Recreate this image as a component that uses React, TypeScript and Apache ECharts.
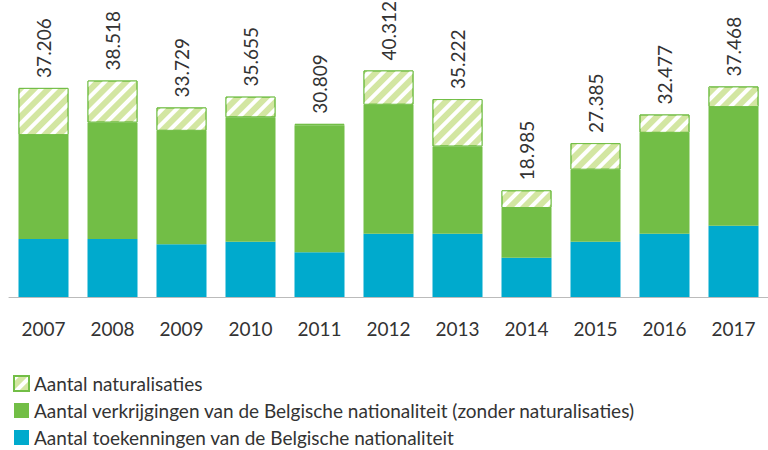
import React, { useEffect, useRef } from "react";
import * as echarts from "echarts";

const years = ["2007", "2008", "2009", "2010", "2011", "2012", "2013", "2014", "2015", "2016", "2017"];
const toekenningen = [10300, 10300, 9370, 9850, 7950, 11270, 11270, 7000, 9850, 11270, 12700];
const verkrijgingen = [18506, 20748, 20199, 22125, 22629, 22942, 15522, 8835, 12805, 17937, 21088];
const naturalisaties = [8400, 7470, 4160, 3680, 230, 6100, 8430, 3150, 4730, 3270, 3680];

const seriesNames = [
  "Aantal naturalisaties",
  "Aantal verkrijgingen van de Belgische nationaliteit (zonder naturalisaties)",
  "Aantal toekenningen van de Belgische nationaliteit",
];

const FONT = "Lato";

export default function App() {
  const ref = useRef<HTMLDivElement>(null);
  useEffect(() => {
    if (!ref.current) return;
    const chart = echarts.init(ref.current, null, { renderer: "svg" });
    const fmt = (v: number) => {
      const s = String(Math.round(v));
      return s.replace(/\B(?=(\d{3})+(?!\d))/g, ".");
    };
    chart.setOption({
      animation: false,
      textStyle: { fontFamily: FONT },
      grid: { left: 9, width: 770, top: 16, bottom: 153, containLabel: false },
      legend: {
        orient: "vertical",
        left: 13,
        top: 374,
        height: 80,
        padding: 0,
        itemWidth: 15,
        itemHeight: 15,
        itemGap: 8,
        icon: "rect",
        data: seriesNames,
        textStyle: { fontFamily: FONT, fontSize: 19, color: "#333" },
      },
      xAxis: {
        type: "category",
        data: years,
        axisLine: { lineStyle: { color: "#bbb", width: 1 } },
        axisTick: { length: 8, lineStyle: { color: "#bbb" } },
        axisLabel: { fontFamily: FONT, fontSize: 19, color: "#333", margin: 22 },
      },
      yAxis: { type: "value", min: 0, max: 50000, show: false, splitLine: { show: false } },
      series: [
        {
          name: seriesNames[2],
          type: "bar",
          stack: "t",
          barWidth: 50,
          data: toekenningen,
          itemStyle: { color: "#00aacd" },
        },
        {
          name: seriesNames[1],
          type: "bar",
          stack: "t",
          barWidth: 50,
          data: verkrijgingen,
          itemStyle: { color: "#72be46" },
        },
        {
          name: seriesNames[0],
          type: "bar",
          stack: "t",
          barWidth: 50,
          data: naturalisaties,
          itemStyle: {
            color: "#d3e6a2",
            borderColor: "#72be46",
            borderWidth: 1,
            decal: {
              symbol: "rect",
              symbolSize: 1,
              color: "#ffffff",
              dashArrayX: [1, 0],
              dashArrayY: [4, 6],
              rotation: -Math.PI / 4,
            },
          },
          label: {
            show: true,
            position: "top",
            rotate: 90,
            align: "left",
            verticalAlign: "middle",
            distance: 10,
            fontFamily: FONT,
            fontSize: 19,
            color: "#333",
            formatter: (p: any) =>
              fmt(toekenningen[p.dataIndex] + verkrijgingen[p.dataIndex] + naturalisaties[p.dataIndex]),
          },
        },
      ],
    });
    return () => chart.dispose();
  }, []);
  return <div ref={ref} style={{ position: "absolute", left: 0, top: 0, width: 768, height: 450 }} />;
}
